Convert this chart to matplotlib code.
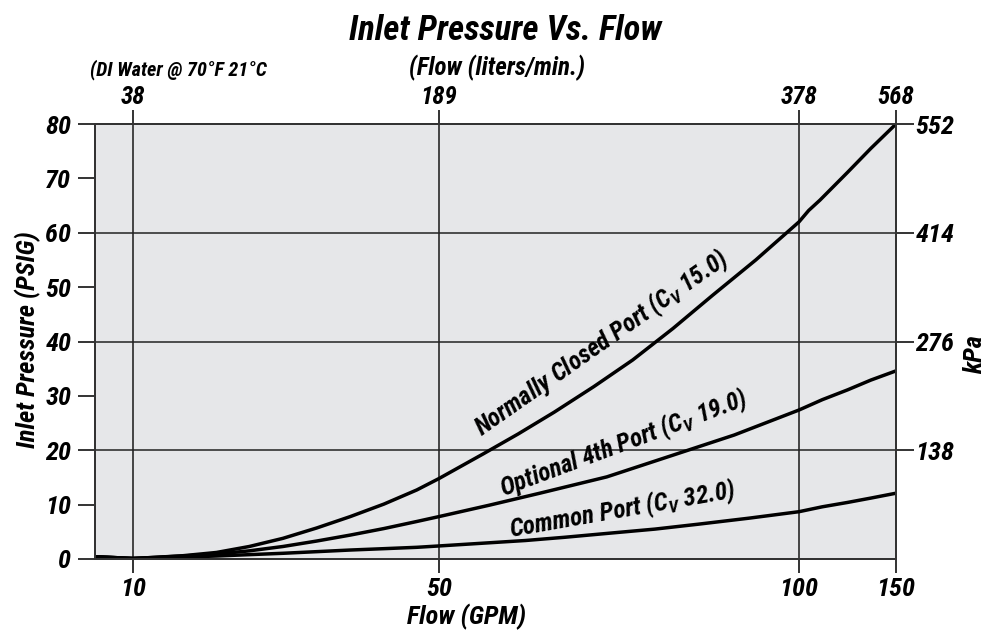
import numpy as np
import matplotlib
matplotlib.use("Agg")
import matplotlib.pyplot as plt
from matplotlib import font_manager

# Flow (GPM) and inlet pressure (PSIG)
nc_gpm = [5.3, 10, 12.2, 16.5, 20.9, 25.2, 29.6, 34, 38.4, 42.8, 47.1, 50, 56.1, 61, 66,
          71.5, 76.9, 82.5, 88, 94, 100, 105, 110.8, 125, 137, 150]
nc_psi = [0.4, 0.1, 0.25, 0.6, 1.2, 2.3, 3.8, 5.7, 7.8, 10.1, 12.7, 14.8, 19.3, 23.0, 27.0,
          31.7, 36.6, 42.4, 48.5, 55.0, 62.0, 64.1, 66.0, 71.1, 75.5, 80.0]

opt_gpm = [5.3, 10, 12.2, 16.5, 20.9, 25.2, 29.6, 34, 38.4, 42.8, 47.1, 50, 57, 64, 73.3,
           82.5, 91, 100, 112, 125, 137, 150]
opt_psi = [0.4, 0.1, 0.25, 0.55, 0.9, 1.5, 2.3, 3.3, 4.4, 5.6, 6.9, 7.8, 9.9, 12.1, 15.1,
           19.1, 22.8, 27.4, 29.3, 31.1, 32.9, 34.6]

com_gpm = [5.3, 10, 12.2, 16.5, 20.9, 25.2, 29.6, 34, 38.4, 42.8, 47.1, 50, 56, 62, 67.5,
           73.3, 80, 86, 93, 100, 112, 125, 137, 150]
com_psi = [0.4, 0.1, 0.2, 0.35, 0.55, 0.8, 1.05, 1.35, 1.65, 1.9, 2.15, 2.4, 2.9, 3.4, 4.0,
           4.7, 5.5, 6.4, 7.5, 8.7, 9.6, 10.4, 11.2, 12.1]

gpm_ticks = [10, 50, 100, 150]
lpm_labels = ["38", "189", "378", "568"]
psi_ticks = [0, 10, 20, 30, 40, 50, 60, 70, 80]
kpa_ticks = [20, 40, 60, 80]
kpa_labels = ["138", "276", "414", "552"]

# the flow axis is not linear: spacing between the printed ticks
scale_gpm = [5, 10, 50, 100, 150]
scale_pos = [0, 38, 344, 704, 801]


def fwd(x):
    return np.interp(x, scale_gpm, scale_pos)


def inv(p):
    return np.interp(p, scale_pos, scale_gpm)


available = {f.name for f in font_manager.fontManager.ttflist}
family = "DejaVu Sans"
for name in ["Liberation Sans Narrow", "Roboto Condensed", "Liberation Sans"]:
    if name in available:
        family = name
        break

plt.rcParams["font.family"] = [family, "DejaVu Sans"]
plt.rcParams["font.weight"] = "bold"
plt.rcParams["font.style"] = "italic"
plt.rcParams["mathtext.fontset"] = "custom"
plt.rcParams["mathtext.rm"] = family + ":bold:italic"
plt.rcParams["mathtext.it"] = family + ":bold:italic"

fig = plt.figure(figsize=(9.87, 6.31), dpi=100)
ax = fig.add_axes([95 / 987, 72 / 631, 801 / 987, 435 / 631])
ax.set_facecolor("#e6e7e9")

ax.set_xscale("function", functions=(fwd, inv))
ax.set_xlim(5, 150)
ax.set_ylim(0, 80)

for g in gpm_ticks[:-1]:
    ax.axvline(g, color="#444444", lw=1.4, zorder=1)
for p in kpa_ticks[:-1]:
    ax.axhline(p, color="#222222", lw=1.1, zorder=1)

ax.plot(nc_gpm, nc_psi, color="black", lw=2.5, zorder=3)
ax.plot(opt_gpm, opt_psi, color="black", lw=2.5, zorder=3)
ax.plot(com_gpm, com_psi, color="black", lw=2.5, zorder=3)

for s in ax.spines.values():
    s.set_color("#333333")
    s.set_linewidth(1.4)

ax.set_xticks(gpm_ticks)
ax.set_xticklabels([str(t) for t in gpm_ticks])
ax.set_yticks(psi_ticks)
ax.set_yticklabels([str(t) for t in psi_ticks])
ax.tick_params(axis="x", direction="out", length=10, width=1.4, pad=3,
               labelsize=19, color="#333333")
ax.tick_params(axis="y", direction="out", length=12, width=1.4, pad=5,
               labelsize=19, color="#333333")
ax.minorticks_off()

top = ax.twiny()
top.set_xscale("function", functions=(fwd, inv))
top.set_xlim(ax.get_xlim())
top.set_xticks(gpm_ticks)
top.set_xticklabels(lpm_labels)
top.tick_params(axis="x", direction="out", length=10, width=1.4, pad=1,
                labelsize=18, color="#333333")
top.minorticks_off()

right = ax.twinx()
right.set_ylim(ax.get_ylim())
right.set_yticks(kpa_ticks)
right.set_yticklabels(kpa_labels)
right.tick_params(axis="y", direction="out", length=13, width=1.4, pad=1,
                  labelsize=19, color="#333333")
for a in (top, right):
    for s in a.spines.values():
        s.set_color("#333333")
        s.set_linewidth(1.4)

fig.text(467 / 987, 1 - 617 / 631, "Flow (GPM)", ha="center", va="center",
         fontsize=19, fontweight="bold")
fig.text(28 / 987, 1 - 340 / 631, "Inlet Pressure (PSIG)", rotation=90,
         ha="center", va="center", fontsize=19, fontweight="bold")
fig.text(975 / 987, 1 - 355 / 631, "kPa", rotation=90,
         ha="center", va="center", fontsize=19, fontweight="bold")

fig.text(0.512, 0.952, "Inlet Pressure Vs. Flow", ha="center", va="center", fontsize=25)
fig.text(0.504, 0.893, "(Flow (liters/min.)", ha="center", va="center", fontsize=18)
fig.text(0.091, 0.889, "(DI Water @ 70°F 21°C", ha="left", va="center", fontsize=14.5)

ax.text(72.6, 39.7, r"Normally Closed Port (C$_\mathregular{V}$ 15.0)", rotation=35,
        ha="center", va="center", fontsize=18, zorder=4)
ax.text(75.6, 21.3, r"Optional 4th Port (C$_\mathregular{V}$ 19.0)", rotation=20.5,
        ha="center", va="center", fontsize=18, zorder=4)
ax.text(75.4, 9.0, r"Common Port (C$_\mathregular{V}$ 32.0)", rotation=10,
        ha="center", va="center", fontsize=18, zorder=4)

fig.savefig("out.png", dpi=100)
